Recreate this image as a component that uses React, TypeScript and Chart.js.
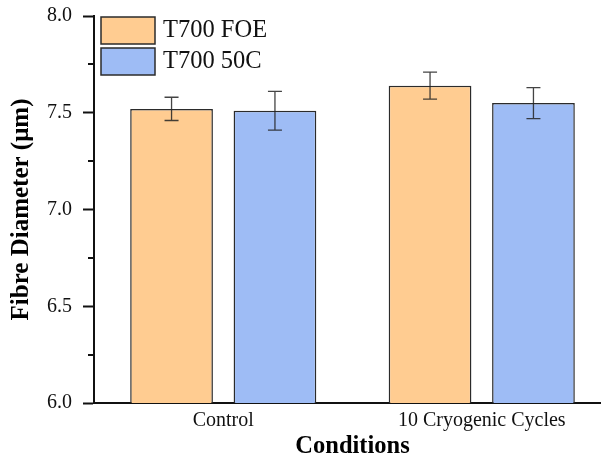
import React, { useEffect, useRef } from 'react';
import { Chart, registerables } from 'chart.js';

Chart.register(...registerables);

const categories = ['Control', '10 Cryogenic Cycles'];
const categoryPositions = [1, 2];
const seriesNames = ['T700 FOE', 'T700 50C'];
const foeMeans = [7.52, 7.64];
const foeErrors = [0.06, 0.07];
const c50Means = [7.51, 7.55];
const c50Errors = [0.1, 0.08];
const yTickValues = [6.0, 6.5, 7.0, 7.5, 8.0];
const yMinorTickValues = [6.25, 6.75, 7.25, 7.75];

const FONT = "'Liberation Serif', 'Times New Roman', serif";
const AXIS_COLOR = '#111';

const errorBarPlugin = {
  id: 'errorBars',
  afterDatasetsDraw(chart: any) {
    const ctx = chart.ctx;
    const y = chart.scales.y;
    chart.data.datasets.forEach((ds: any, di: number) => {
      const meta = chart.getDatasetMeta(di);
      meta.data.forEach((bar: any, i: number) => {
        const v = ds.data[i].y;
        const e = ds.errors[i];
        const yt = y.getPixelForValue(v + e);
        const yb = y.getPixelForValue(v - e);
        ctx.save();
        ctx.strokeStyle = 'rgba(35,35,35,0.85)';
        ctx.lineWidth = 1.3;
        ctx.beginPath();
        ctx.moveTo(bar.x, yt);
        ctx.lineTo(bar.x, yb);
        ctx.moveTo(bar.x - 7, yt);
        ctx.lineTo(bar.x + 7, yt);
        ctx.moveTo(bar.x - 7, yb);
        ctx.lineTo(bar.x + 7, yb);
        ctx.stroke();
        ctx.restore();
      });
    });
  },
};

const minorTickPlugin = {
  id: 'minorTicks',
  afterDraw(chart: any) {
    const ctx = chart.ctx;
    const y = chart.scales.y;
    ctx.save();
    ctx.strokeStyle = AXIS_COLOR;
    ctx.lineWidth = 2;
    ctx.beginPath();
    yMinorTickValues.forEach((v) => {
      const py = Math.round(y.getPixelForValue(v));
      ctx.moveTo(y.right - 6, py);
      ctx.lineTo(y.right, py);
    });
    ctx.stroke();
    ctx.restore();
  },
};

const legendPlugin = {
  id: 'boxLegend',
  afterDraw(chart: any) {
    const ctx = chart.ctx;
    const area = chart.chartArea;
    ctx.save();
    chart.data.datasets.forEach((ds: any, i: number) => {
      const bx = area.left + 7;
      const by = area.top + 1 + i * 31;
      ctx.fillStyle = ds.backgroundColor;
      ctx.fillRect(bx, by, 54, 27);
      ctx.strokeStyle = '#2b2b2b';
      ctx.lineWidth = 1.5;
      ctx.strokeRect(bx, by, 54, 27);
      ctx.fillStyle = '#111';
      ctx.font = `24.5px ${FONT}`;
      ctx.textBaseline = 'middle';
      ctx.textAlign = 'left';
      ctx.fillText(ds.label, bx + 62, by + 14);
    });
    ctx.restore();
  },
};

export default function App() {
  const canvasRef = useRef<HTMLCanvasElement | null>(null);

  useEffect(() => {
    if (!canvasRef.current) return;
    const chart = new Chart(canvasRef.current, {
      type: 'bar',
      data: {
        datasets: [
          {
            label: seriesNames[0],
            data: categoryPositions.map((x, i) => ({ x, y: foeMeans[i] })),
            errors: foeErrors,
            backgroundColor: '#FFCC91',
            borderColor: '#2b2b2b',
            borderWidth: 1.5,
            categoryPercentage: 0.8,
            barPercentage: 0.8,
          } as any,
          {
            label: seriesNames[1],
            data: categoryPositions.map((x, i) => ({ x, y: c50Means[i] })),
            errors: c50Errors,
            backgroundColor: '#9EBCF5',
            borderColor: '#2b2b2b',
            borderWidth: 1.5,
            categoryPercentage: 0.8,
            barPercentage: 0.8,
          } as any,
        ],
      },
      options: {
        responsive: false,
        animation: false,
        layout: { padding: { top: 16, left: 0, right: 0, bottom: 0 } },
        plugins: {
          legend: { display: false },
          tooltip: { enabled: false },
        },
        scales: {
          x: {
            type: 'linear',
            min: 0.5,
            max: 2.5,
            offset: false,
            afterBuildTicks: (s: any) => {
              s.ticks = categoryPositions.map((v) => ({ value: v }));
            },
            afterFit: (s: any) => {
              s.height = 56;
              s.paddingLeft = 0;
              s.paddingRight = 0;
            },
            grid: { display: false, drawTicks: false },
            border: { display: true, color: AXIS_COLOR, width: 2 },
            ticks: {
              callback: (_v: any, idx: number) => categories[idx],
              autoSkip: false,
              maxRotation: 0,
              padding: 6,
              color: '#111',
              font: { family: FONT, size: 20 },
            },
            title: {
              display: true,
              text: 'Conditions',
              color: '#000',
              font: { family: FONT, size: 24.5, weight: 'bold', lineHeight: 1 },
              padding: { top: 0, bottom: 0 },
            },
          },
          y: {
            type: 'linear',
            min: 6,
            max: 8,
            afterBuildTicks: (s: any) => {
              s.ticks = yTickValues.map((v) => ({ value: v }));
            },
            afterFit: (s: any) => {
              s.width = 94;
              s.paddingTop = 0;
              s.paddingBottom = 0;
            },
            grid: {
              display: true,
              drawOnChartArea: false,
              drawTicks: true,
              tickLength: 11,
              tickWidth: 2,
              tickColor: AXIS_COLOR,
            },
            border: { display: true, color: AXIS_COLOR, width: 2 },
            ticks: {
              callback: (v: any) => Number(v).toFixed(1),
              padding: 11,
              color: '#111',
              font: { family: FONT, size: 20 },
            },
            title: {
              display: true,
              text: 'Fibre Diameter (μm)',
              color: '#000',
              font: { family: FONT, size: 25, weight: 'bold', lineHeight: 1 },
              padding: { top: 9.5, bottom: 0 },
            },
          },
        },
      } as any,
      plugins: [errorBarPlugin, minorTickPlugin, legendPlugin],
    });
    return () => chart.destroy();
  }, []);

  return (
    <div
      style={{
        position: 'fixed',
        left: 0,
        top: 0,
        width: 601,
        height: 459,
        overflow: 'hidden',
        background: '#fff',
      }}
    >
      <canvas ref={canvasRef} width={611} height={459} style={{ display: 'block', width: 611, height: 459 }} />
    </div>
  );
}
